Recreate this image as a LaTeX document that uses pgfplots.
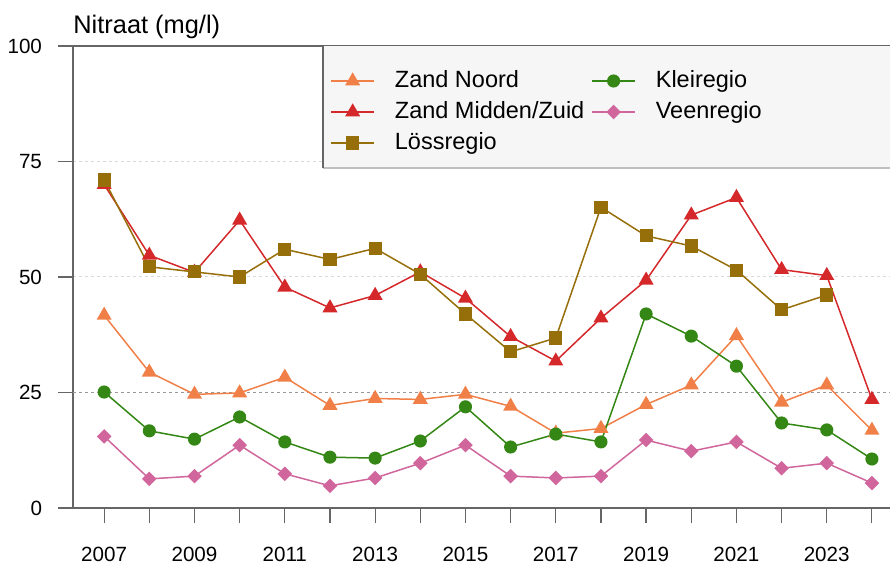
\documentclass[border=0pt]{standalone}
\usepackage{pgfplots}
\pgfplotsset{compat=1.18}
\usepackage{pgfplotstable}
\usepackage{fontspec}
\setmainfont{Liberation Sans}
\definecolor{cZN}{RGB}{240,128,72}
\definecolor{cZM}{RGB}{212,40,42}
\definecolor{cLO}{RGB}{150,110,10}
\definecolor{cKL}{RGB}{52,135,20}
\definecolor{cVE}{RGB}{208,102,156}
\definecolor{legbg}{RGB}{246,246,246}

\pgfplotstableread{
year ZN ZM KL VE
2007 41.7 70.0 25.1 15.5
2008 29.4 54.7 16.7 6.3
2009 24.6 51.0 14.9 6.9
2010 24.9 62.3 19.7 13.6
2011 28.3 47.8 14.3 7.4
2012 22.2 43.3 11.0 4.8
2013 23.7 46.0 10.8 6.5
2014 23.5 51.1 14.5 9.7
2015 24.6 45.4 21.9 13.6
2016 22.0 37.1 13.2 6.9
2017 16.2 31.8 16.0 6.5
2018 17.2 41.1 14.3 6.9
2019 22.4 49.3 42.0 14.7
2020 26.6 63.4 37.2 12.3
2021 37.3 67.2 30.7 14.3
2022 22.9 51.6 18.4 8.6
2023 26.6 50.3 16.9 9.7
2024 16.8 23.5 10.6 5.4
}\datatab

\pgfplotstableread{
year LO
2007 71.0
2008 52.2
2009 51.1
2010 50.0
2011 56.0
2012 53.8
2013 56.2
2014 50.6
2015 42.0
2016 33.8
2017 36.8
2018 65.1
2019 58.9
2020 56.7
2021 51.5
2022 42.9
2023 46.1
}\lostab

\begin{document}
\begin{tikzpicture}
\useasboundingbox (-36.5pt,-29pt) rectangle (408.5pt,254pt);
\begin{axis}[
  name=ax,
  at={(0,0)}, anchor=south west,
  scale only axis, width=408.5pt, height=231pt,
  xmin=2006.31, xmax=2024.4, ymin=0, ymax=100,
  axis x line=box, axis y line=left,
  axis line style={-, draw=black!60, line width=0.6pt},
  y axis line style={-},
  xtick pos=bottom, ytick pos=left,
  tick align=outside, major tick length=7.5pt,
  tick style={black!60, line width=0.6pt},
  xtick={2007,...,2024},
  xticklabels={2007,,2009,,2011,,2013,,2015,,2017,,2019,,2021,,2023,},
  ytick={0,50,75,100}, yticklabels={0,50,75,100},
  extra y ticks={25}, extra y tick labels={25},
  ymajorgrids,
  grid style={black!15, dash pattern=on 1.5pt off 1.5pt, line width=0.5pt},
  extra y tick style={grid style={black!40, dash pattern=on 1.5pt off 1.5pt, line width=0.5pt}},
  ticklabel style={font=\fontsize{10.3}{12}\selectfont, text=black},
  yticklabel style={xshift=-4.5pt},
  xticklabel style={yshift=-8.5pt},
  clip=false,
  legend columns=3, transpose legend,
  legend cell align=left,
  legend style={draw=none, fill=none, at={(rel axis cs:0.3146,0.950)}, anchor=north west,
    inner sep=0pt, font=\fontsize{11.75}{14}\selectfont,
    nodes={inner sep=0pt, text height=9pt, text depth=2.5pt},
    row sep=4pt, column sep=10pt,
    /tikz/every even column/.append style={column sep=3.5pt}},
  legend image code/.code={\draw[mark repeat=2,mark phase=2] plot coordinates {(0pt,0pt) (10.75pt,0pt) (21.5pt,0pt)};},
  every axis plot/.append style={line width=0.75pt},
]
\fill[legbg] (rel axis cs:0.306,0.736) rectangle (rel axis cs:1,1);
\draw[black!25, line width=0.8pt] (rel axis cs:0.306,0.736) -- (rel axis cs:1,0.736);
\draw[black!60, line width=0.6pt] (rel axis cs:0.306,0.736) -- (rel axis cs:0.306,1);

\addplot[cZN, mark=triangle*, mark size=3.6pt, mark options={solid}] table[x=year,y=ZN] {\datatab};
\addlegendentry{Zand Noord}
\addplot[cZM, mark=triangle*, mark size=3.6pt] table[x=year,y=ZM] {\datatab};
\addlegendentry{Zand Midden/Zuid}
\addplot[cLO, mark=square*, mark size=2.9pt] table[x=year,y=LO] {\lostab};
\addlegendentry{Lössregio}
\addplot[cKL, mark=*, mark size=2.9pt] table[x=year,y=KL] {\datatab};
\addlegendentry{Kleiregio}
\addplot[cVE, mark=square*, mark size=2.2pt, mark options={rotate=45}] table[x=year,y=VE] {\datatab};
\addlegendentry{Veenregio}
\end{axis}
\node[anchor=base west, font=\fontsize{12.7}{15}\selectfont, inner sep=0pt] at ([yshift=6pt]ax.north west) {Nitraat (mg/l)};
\end{tikzpicture}
\end{document}
